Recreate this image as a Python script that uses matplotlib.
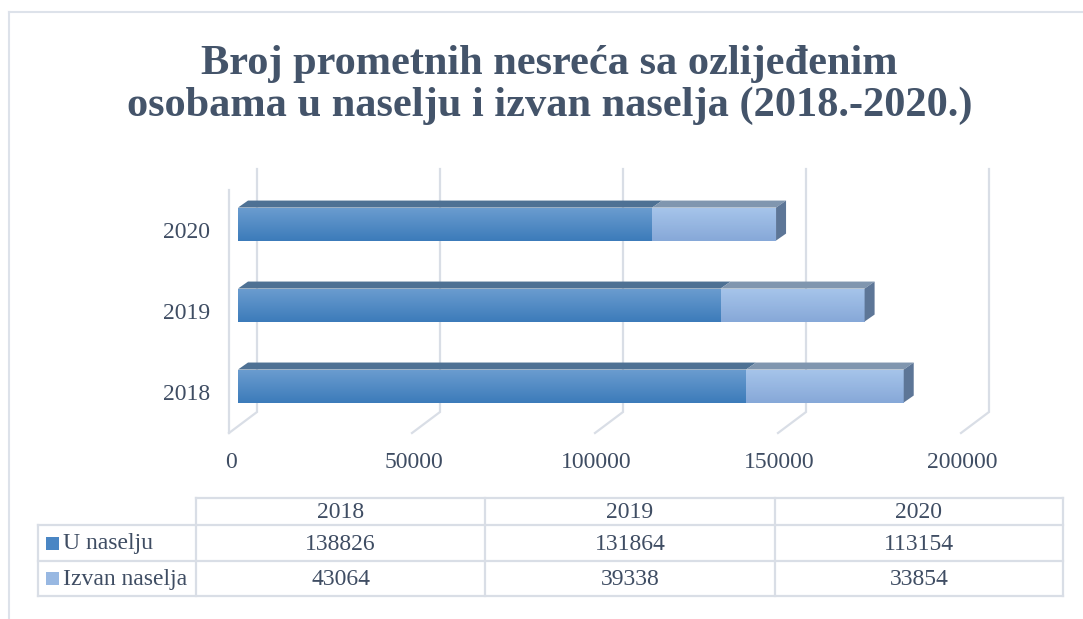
"""Broj prometnih nesreća s ozlijeđenim osobama u naselju i izvan naselja.
Horizontalni složeni stupci s 3D efektom i podatkovna tablica ispod grafa.
"""

import numpy as np
import matplotlib
matplotlib.use("Agg")
import matplotlib.pyplot as plt
from matplotlib.colors import LinearSegmentedColormap
from matplotlib.patches import Polygon, Rectangle

godine = ["2018", "2019", "2020"]
u_naselju = [138826, 131864, 113154]
izvan_naselja = [43064, 39338, 33854]
serije = ["U naselju", "Izvan naselja"]
x_oznake = [0, 50000, 100000, 150000, 200000]
naslov = "Broj prometnih nesreća sa ozlijeđenim\nosobama u naselju i izvan naselja (2018.-2020.)"

W, H = 1083, 619
FONT = "Liberation Serif"
TEKST = "#3F4D63"
NASLOV = "#44546A"
MREZA = "#D9DEE6"

# boje: vrh prednje strane, dno prednje strane, gornja ploha, bočna ploha
BOJE = {
    "U naselju": ("#6A9CCF", "#3C7BBA", "#4E7194", "#4A6688"),
    "Izvan naselja": ("#A6C4EA", "#86A8D8", "#8096AF", "#5D7697"),
}
LEGENDA = {"U naselju": "#4A86C4", "Izvan naselja": "#98B8E2"}

X_MAX = 200000
Y_MIN, Y_MAX = -0.58, 2.68
OS_PX = (229, 169, 732, 264)  # lijevo, vrh, širina, visina u pikselima

ux = X_MAX / OS_PX[2]
uy = (Y_MAX - Y_MIN) / OS_PX[3]

# dubina poda i stupaca
POD_DX, POD_DY = 28 * ux, 21 * uy
ST_X0 = 9 * ux
ST_DX, ST_DY = 10 * ux, 7 * uy
POLA = 16.5 * uy


def kvadar(ax, x0, x1, yc, boje, z, bok=False):
    """Crta jedan segment stupca: prednja strana s prijelazom, vrh i bok."""
    vrh_c, dno_c, gornja, bocna = boje
    y0, y1 = yc - POLA, yc + POLA
    cmap = LinearSegmentedColormap.from_list("seg", [dno_c, vrh_c])
    grad = np.linspace(0, 1, 64).reshape(-1, 1)
    ax.imshow(grad, cmap=cmap, extent=(x0, x1, y0, y1), origin="lower",
              aspect="auto", interpolation="bilinear", zorder=z)
    ax.add_patch(Polygon([(x0, y1), (x1, y1), (x1 + ST_DX, y1 + ST_DY),
                          (x0 + ST_DX, y1 + ST_DY)], closed=True,
                         facecolor=gornja, edgecolor="none", zorder=z))
    if bok:
        ax.add_patch(Polygon([(x1, y0), (x1, y1), (x1 + ST_DX, y1 + ST_DY),
                              (x1 + ST_DX, y0 + ST_DY)], closed=True,
                             facecolor=bocna, edgecolor="none", zorder=z))


fig = plt.figure(figsize=(W / 100, H / 100), dpi=100)
fig.patch.set_facecolor("white")

# pozadinske osi u pikselima za naslov, okvir i tablicu
pz = fig.add_axes([0, 0, 1, 1])
pz.set_xlim(0, W)
pz.set_ylim(H, 0)
pz.axis("off")

ax = fig.add_axes([OS_PX[0] / W, 1 - (OS_PX[1] + OS_PX[3]) / H,
                   OS_PX[2] / W, OS_PX[3] / H])
ax.axis("off")

# okvir grafikona
pz.plot([9, W], [12, 12], color="#DDE2EA", lw=1.5)
pz.plot([9, 9], [12, H], color="#DDE2EA", lw=1.5)

pz.text(W / 2 + 8, 85, naslov, ha="center", va="center", fontsize=30.5,
        fontweight="bold", color=NASLOV, family=FONT, linespacing=1.1)

# mreža na stražnjem zidu i rubovi poda
for v in x_oznake:
    ax.plot([v + POD_DX, v + POD_DX, v], [Y_MAX, Y_MIN + POD_DY, Y_MIN],
            color=MREZA, lw=1.6, zorder=1, clip_on=False, solid_joinstyle="miter")
    ax.text(v + 1.5 * ux, Y_MIN - 29 * uy, str(v), ha="center", va="center",
            fontsize=17, color=TEKST, family=FONT)
ax.plot([0, 0], [Y_MIN, Y_MAX - POD_DY], color=MREZA, lw=1.6, zorder=1,
        clip_on=False)

# stupci
for i, god in enumerate(godine):
    a, b = u_naselju[i], izvan_naselja[i]
    kvadar(ax, ST_X0, ST_X0 + a, i, BOJE["U naselju"], 3)
    kvadar(ax, ST_X0 + a, ST_X0 + a + b, i, BOJE["Izvan naselja"], 3, bok=True)
    ax.text(-19 * ux, i - 0.1, god, ha="right", va="center", fontsize=17,
            color=TEKST, family=FONT)

ax.set_xlim(0, X_MAX)
ax.set_ylim(Y_MIN, Y_MAX)

# podatkovna tablica
stupci = [196, 485, 775, 1063]
redovi = [498, 525, 561, 596]
tlw = 1.6
pz.plot([stupci[0], stupci[-1]], [redovi[0]] * 2, color=MREZA, lw=tlw)
for r in redovi[1:]:
    pz.plot([38, stupci[-1]], [r, r], color=MREZA, lw=tlw)
pz.plot([38, 38], [redovi[1], redovi[-1]], color=MREZA, lw=tlw)
for c in stupci:
    pz.plot([c, c], [redovi[0], redovi[-1]], color=MREZA, lw=tlw)

for j, god in enumerate(godine):
    xc = (stupci[j] + stupci[j + 1]) / 2
    pz.text(xc, (redovi[0] + redovi[1]) / 2 + 1, god, ha="center", va="center",
            fontsize=17, color=TEKST, family=FONT)
    for k, vrijednosti in enumerate([u_naselju, izvan_naselja]):
        yc = (redovi[k + 1] + redovi[k + 2]) / 2 + 1
        pz.text(xc, yc, str(vrijednosti[j]), ha="center", va="center",
                fontsize=17, color=TEKST, family=FONT)

for k, naziv in enumerate(serije):
    yc = (redovi[k + 1] + redovi[k + 2]) / 2
    pz.add_patch(Rectangle((46, yc - 6.5), 13, 13, facecolor=LEGENDA[naziv],
                           edgecolor="none"))
    pz.text(63, yc + 1, naziv, ha="left", va="center", fontsize=17,
            color=TEKST, family=FONT)

fig.savefig("out.png", dpi=100, facecolor="white")
